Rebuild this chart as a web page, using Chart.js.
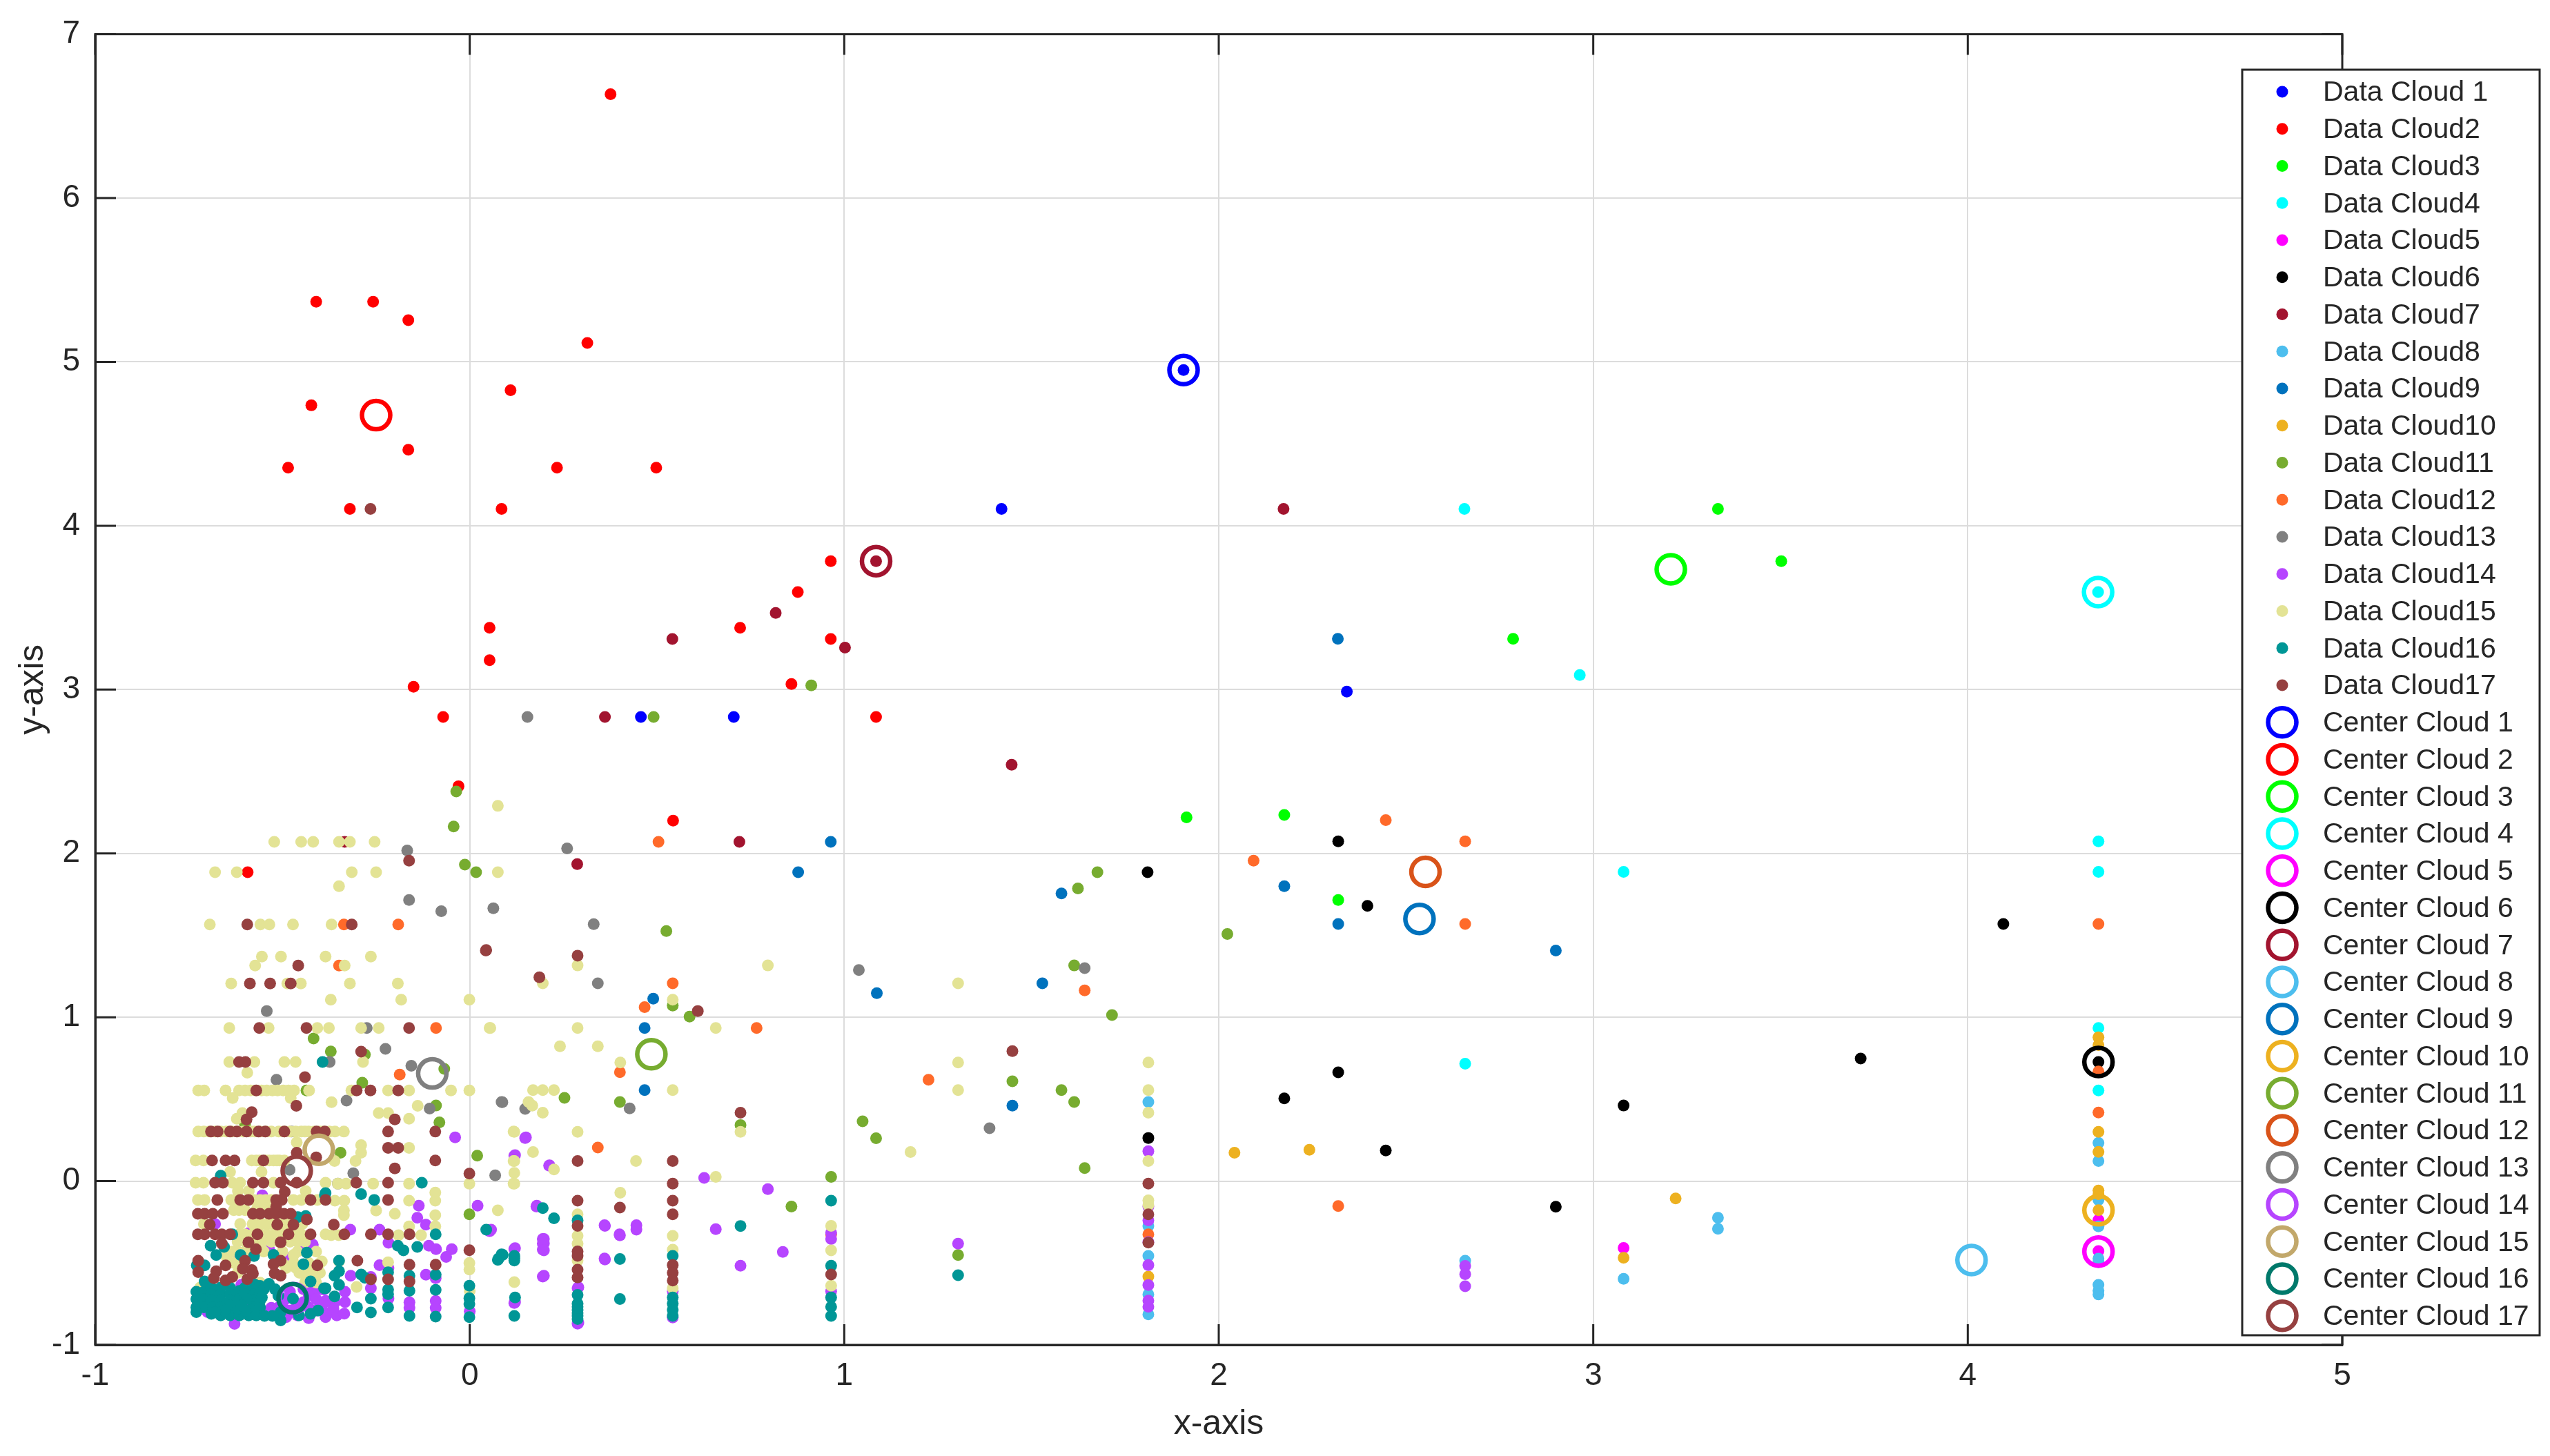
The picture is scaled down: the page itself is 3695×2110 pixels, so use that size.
<!DOCTYPE html>
<html>
<head>
<meta charset="utf-8">
<title>Data clouds</title>
<script src="https://cdn.jsdelivr.net/npm/chart.js@4/dist/chart.umd.js"></script>
<style>
  html, body { margin: 0; background: #fff; }
  #chart { display: block; }
</style>
</head>
<body>
<canvas id="chart" width="3695" height="2110"></canvas>
<script>
const xTicks = [-1, 0, 1, 2, 3, 4, 5];
const yTicks = [-1, 0, 1, 2, 3, 4, 5, 6, 7];
const dataNames = ['Data Cloud 1', 'Data Cloud2', 'Data Cloud3', 'Data Cloud4', 'Data Cloud5', 'Data Cloud6', 'Data Cloud7', 'Data Cloud8', 'Data Cloud9', 'Data Cloud10', 'Data Cloud11', 'Data Cloud12', 'Data Cloud13', 'Data Cloud14', 'Data Cloud15', 'Data Cloud16', 'Data Cloud17'];
const centerNames = ['Center Cloud 1', 'Center Cloud 2', 'Center Cloud 3', 'Center Cloud 4', 'Center Cloud 5', 'Center Cloud 6', 'Center Cloud 7', 'Center Cloud 8', 'Center Cloud 9', 'Center Cloud 10', 'Center Cloud 11', 'Center Cloud 12', 'Center Cloud 13', 'Center Cloud 14', 'Center Cloud 15', 'Center Cloud 16', 'Center Cloud 17'];
const dataColors = ['#0000ff', '#ff0000', '#00ff00', '#00ffff', '#ff00ff', '#000000', '#a2142f', '#4dbeee', '#0072bd', '#edb120', '#77ac30', '#ff6a2a', '#808080', '#b645ff', '#e3e395', '#009696', '#964040'];
const centerColors = ['#0000ff', '#ff0000', '#00ff00', '#00ffff', '#ff00ff', '#000000', '#a2142f', '#4dbeee', '#0072bd', '#edb120', '#77ac30', '#d95319', '#808080', '#b645ff', '#c2a86b', '#00796b', '#964040'];

const centers = [[1.906,4.95],[-0.25,4.675],[3.207,3.734],[4.348,3.595],[4.349,-0.43],[4.349,0.727],[1.085,3.784],[4.01,-0.482],[2.536,1.6],[4.349,-0.178],[0.485,0.774],[2.552,1.887],[-0.1,0.657],[-0.47,-0.715],[-0.403,0.191],[-0.473,-0.715],[-0.462,0.062]];

const cloud1 = [[1.906,4.95],[1.42,4.103],[0.457,2.833],[0.705,2.833],[2.342,2.988]];
const cloud2 = [[0.376,6.634],[-0.41,5.367],[-0.258,5.367],[-0.164,5.255],[0.314,5.116],[0.109,4.827],[-0.423,4.735],[-0.164,4.464],[-0.485,4.354],[0.233,4.354],[0.498,4.354],[-0.32,4.103],[0.085,4.103],[0.964,3.784],[0.876,3.595],[0.053,3.377],[0.722,3.377],[0.964,3.309],[0.053,3.179],[-0.15,3.017],[0.859,3.034],[-0.071,2.833],[1.085,2.833],[0.543,2.2],[-0.03,2.41],[-0.593,1.885]];
const cloud3 = [[3.333,4.103],[3.502,3.784],[2.786,3.31],[1.914,2.22],[2.175,2.235],[2.319,1.716]];
const cloud4 = [[2.656,4.103],[2.964,3.089],[4.348,3.595],[2.658,0.716],[3.081,1.887],[4.349,2.074],[4.349,1.887],[4.349,0.934],[4.349,0.553]];
const cloud5 = [[3.081,-0.408],[4.349,-0.238],[4.349,-0.427]];
const cloud6 = [[2.319,2.074],[2.397,1.68],[4.095,1.569],[3.714,0.748],[4.349,0.727],[2.319,0.664],[2.175,0.505],[3.081,0.461],[2.446,0.187],[2.9,-0.157],[1.812,0.263],[1.81,1.885]];
const cloud7 = [[1.085,3.784],[2.173,4.103],[0.541,3.309],[0.817,3.468],[1.002,3.256],[0.361,2.833],[1.447,2.541],[0.72,2.07],[0.287,1.935],[-0.334,2.07]];
const cloud8 = [[3.333,-0.224],[3.333,-0.291],[3.081,-0.597],[2.658,-0.486],[4.349,0.233],[4.349,0.122],[4.349,-0.115],[4.349,-0.277],[4.349,-0.473],[4.349,-0.496],[4.349,-0.634],[4.349,-0.669],[4.349,-0.692],[1.812,0.483],[1.812,-0.274],[1.812,-0.457],[1.812,-0.692],[1.812,-0.814]];
const cloud9 = [[2.175,1.8],[2.319,1.569],[2.9,1.407],[1.529,1.207],[1.087,1.147],[0.49,1.113],[0.467,0.934],[0.467,0.555],[1.449,0.46],[0.877,1.885],[0.964,2.07],[1.58,1.756],[2.318,3.31]];
const cloud10 = [[2.042,0.173],[2.242,0.191],[3.22,-0.106],[3.081,-0.468],[4.349,0.877],[4.349,0.83],[4.349,0.3],[4.349,0.178],[4.349,-0.058],[4.349,-0.08],[4.349,-0.178],[1.812,-0.583]];
const cloud11 = [[0.491,2.833],[0.912,3.025],[-0.036,2.378],[-0.043,2.164],[-0.013,1.931],[0.017,1.885],[-0.417,0.87],[-0.371,0.791],[-0.28,0.772],[-0.287,0.6],[-0.436,0.553],[-0.068,0.685],[-0.09,0.461],[-0.081,0.358],[-0.6,0.346],[-0.345,0.173],[0.02,0.155],[-0.001,-0.203],[0.525,1.526],[0.542,1.071],[0.587,1.004],[0.253,0.508],[0.401,0.483],[0.723,0.342],[0.859,-0.156],[0.965,0.026],[1.304,-0.451],[1.58,0.555],[1.614,0.483],[1.449,0.609],[1.049,0.365],[1.085,0.261],[1.642,0.079],[1.614,1.316],[1.715,1.013],[2.023,1.508],[1.676,1.885],[1.624,1.786]];
const cloud12 = [[2.446,2.203],[2.658,2.074],[2.093,1.956],[2.658,1.569],[2.319,-0.152],[4.349,1.569],[4.349,0.669],[4.349,0.418],[-0.336,1.566],[-0.191,1.566],[-0.349,1.315],[-0.09,0.934],[-0.187,0.65],[0.542,1.207],[0.467,1.062],[0.766,0.934],[0.401,0.665],[0.342,0.205],[1.225,0.618],[1.642,1.164],[0.965,-0.325],[1.812,-0.325],[0.504,2.07]];
const cloud13 = [[0.154,2.833],[-0.167,2.018],[-0.162,1.716],[-0.076,1.647],[0.063,1.665],[-0.542,1.038],[-0.275,0.934],[-0.225,0.807],[-0.374,0.727],[-0.516,0.618],[-0.156,0.704],[-0.329,0.491],[-0.107,0.443],[0.087,0.482],[-0.476,0.302],[-0.481,0.069],[-0.311,0.048],[-0.352,-0.016],[0.068,0.035],[0.331,1.568],[0.342,1.207],[1.039,1.288],[1.642,1.3],[0.085,0.483],[0.148,0.44],[0.427,0.444],[1.388,0.323],[0.26,2.03]];
const cloud14 = [[0.148,0.263],[0.119,0.154],[0.212,0.094],[0.626,0.019],[0.796,-0.049],[0.836,-0.432],[0.723,-0.517],[0.657,-0.293],[0.445,-0.269],[0.445,-0.297],[0.361,-0.273],[0.401,-0.331],[0.195,-0.353],[0.195,-0.382],[0.195,-0.419],[0.195,-0.583],[0.361,-0.479],[0.178,-0.156],[0.053,-0.306],[0.119,-0.415],[0.119,-0.744],[0.288,-0.654],[0.288,-0.87],[0.965,-0.316],[0.965,-0.353],[0.965,-0.673],[0.542,-0.673],[0.542,-0.833],[1.812,0.182],[1.812,-0.156],[1.812,-0.24],[1.812,-0.372],[1.812,-0.513],[1.812,-0.635],[1.812,-0.729],[1.812,-0.767],[1.304,-0.382],[2.658,-0.518],[2.658,-0.568],[2.658,-0.642],
  [-0.554,-0.087],[-0.68,-0.262],[-0.59,-0.318],[-0.453,-0.409],[-0.419,-0.388],[-0.536,-0.416],[-0.493,-0.465],[-0.425,-0.52],[-0.62,-0.437],[-0.61,-0.634],[-0.6,-0.74],[-0.62,-0.73],[-0.695,-0.662],[-0.53,-0.774],[-0.555,-0.79],[-0.628,-0.872],[-0.7,-0.8],[-0.43,-0.837],[-0.385,-0.83],[-0.48,-0.676],[-0.49,-0.718],[-0.444,-0.739],[-0.462,-0.75],[-0.42,-0.676],[-0.395,-0.66],[-0.383,-0.735],[-0.4,-0.76],[-0.388,-0.8],[-0.444,-0.66],[-0.413,-0.66],[-0.5,-0.76],[-0.46,-0.82],[-0.49,-0.83],[-0.43,-0.7],[-0.41,-0.72],[-0.43,-0.77],[-0.41,-0.79],[-0.36,-0.74],[-0.355,-0.82],[-0.54,-0.8],[-0.51,-0.77],[-0.48,-0.79],
  [-0.389,-0.662],[-0.385,-0.732],[-0.364,-0.781],[-0.385,-0.816],[-0.333,-0.676],[-0.333,-0.739],[-0.335,-0.809],[-0.319,-0.297],[-0.241,-0.297],[-0.217,-0.377],[-0.241,-0.514],[-0.318,-0.578],[-0.264,-0.585],[-0.264,-0.655],[-0.217,-0.53],[-0.217,-0.718],[-0.161,-0.74],[-0.161,-0.774],[-0.117,-0.571],[-0.091,-0.592],[-0.091,-0.732],[-0.091,-0.774],[-0.136,-0.15],[-0.14,-0.224],[-0.117,-0.266],[-0.109,-0.395],[-0.09,-0.416],[-0.048,-0.416],[-0.063,-0.463],[-0.039,0.267],[0.021,-0.15],[0,-0.795],[0.15,0.267],[0.121,0.158],[0.213,0.096],[0.179,-0.15],[0.057,-0.297],[0.198,-0.353],[0.198,-0.381],[0.198,-0.423],[0.198,-0.578],[0.121,-0.409],[0.121,-0.739],[0.36,-0.269],[0.4,-0.325],[0.36,-0.472],[0.29,-0.648],[0.29,-0.865]];
const cloud15 = [[-0.522,2.07],[-0.45,2.07],[-0.418,2.07],[-0.349,2.07],[-0.32,2.07],[-0.254,2.07],[0.075,2.29],[-0.68,1.885],[-0.622,1.885],[-0.315,1.885],[-0.25,1.885],[0.075,1.885],[-0.349,1.8],[-0.694,1.566],[-0.559,1.566],[-0.535,1.566],[-0.472,1.566],[-0.369,1.566],[-0.555,1.37],[-0.504,1.37],[-0.385,1.37],[-0.264,1.37],[-0.573,1.315],[-0.334,1.315],[-0.637,1.206],[-0.487,1.206],[-0.451,1.206],[-0.32,1.206],[-0.192,1.206],[-0.371,1.107],[-0.183,1.107],[-0.001,1.107],
  [-0.642,0.934],[-0.537,0.934],[-0.407,0.934],[-0.376,0.934],[-0.29,0.934],[-0.243,0.934],[0.055,0.934],[-0.642,0.727],[-0.575,0.727],[-0.495,0.727],[-0.465,0.727],[-0.285,0.727],[-0.594,0.662],
  [-0.725,0.553],[-0.709,0.553],[-0.652,0.553],[-0.616,0.553],[-0.6,0.553],[-0.585,0.553],[-0.571,0.553],[-0.556,0.553],[-0.542,0.553],[-0.527,0.553],[-0.513,0.553],[-0.498,0.553],[-0.484,0.553],[-0.469,0.553],[-0.429,0.553],[-0.316,0.553],[-0.218,0.553],[-0.162,0.553],[-0.05,0.553],[-0.001,0.553],[-0.633,0.507],[-0.478,0.507],[-0.369,0.482],[-0.139,0.459],[-0.607,0.415],[-0.243,0.415],[-0.218,0.415],[-0.622,0.38],[-0.162,0.38],
  [-0.725,0.302],[-0.71,0.302],[-0.68,0.302],[-0.65,0.302],[-0.62,0.302],[-0.585,0.302],[-0.56,0.302],[-0.53,0.302],[-0.51,0.302],[-0.48,0.302],[-0.45,0.302],[-0.43,0.302],[-0.4,0.302],[-0.375,0.302],[-0.336,0.302],[0.117,0.302],[-0.695,0.302],[-0.665,0.302],[-0.635,0.302],[-0.605,0.302],[-0.575,0.302],[-0.545,0.302],[-0.495,0.302],[-0.465,0.302],[-0.44,0.302],[-0.415,0.302],[-0.39,0.302],[-0.36,0.302],[-0.462,0.236],[-0.29,0.219],[-0.162,0.203],[-0.29,0.173],
  [-0.732,0.126],[-0.711,0.126],[-0.582,0.126],[-0.56,0.126],[-0.524,0.126],[-0.508,0.126],[-0.361,0.122],[-0.305,0.122],[0.117,0.122],[-0.57,0.126],[-0.545,0.126],[-0.535,0.126],[-0.515,0.126],[-0.495,0.126],[-0.64,0.056],[-0.556,0.056],
  [-0.732,-0.01],[-0.711,-0.01],[-0.634,-0.01],[-0.613,-0.01],[-0.524,-0.01],[-0.385,-0.01],[-0.352,-0.016],[-0.33,-0.016],[-0.258,-0.016],[-0.162,-0.016],[-0.001,-0.016],[0.117,-0.016],[-0.619,-0.061],[-0.59,-0.061],[-0.438,-0.061],[-0.092,-0.07],
  [-0.726,-0.115],[-0.708,-0.115],[-0.637,-0.115],[-0.576,-0.115],[-0.471,-0.115],[-0.45,-0.115],[-0.407,-0.115],[-0.36,-0.12],[-0.335,-0.12],[-0.162,-0.12],[-0.092,-0.12],[-0.625,-0.115],[-0.59,-0.115],[-0.56,-0.115],[-0.545,-0.115],[-0.53,-0.115],[-0.616,-0.178],[-0.6,-0.178],[-0.542,-0.164],[-0.336,-0.18],[-0.25,-0.18],[0.075,-0.179],[-0.336,-0.208],[-0.092,-0.208],[-0.63,-0.178],[-0.57,-0.178],[-0.55,-0.178],[-0.53,-0.178],
  [-0.71,-0.262],[-0.613,-0.262],[-0.567,-0.262],[-0.542,-0.262],[-0.493,-0.262],[-0.447,-0.262],[-0.162,-0.277],[-0.092,-0.277],[-0.58,-0.262],[-0.555,-0.262],[-0.53,-0.262],[-0.51,-0.262],[-0.48,-0.262],[-0.46,-0.262],[-0.616,-0.325],[-0.542,-0.325],[-0.52,-0.325],[-0.385,-0.325],[-0.37,-0.33],[-0.35,-0.33],[-0.19,-0.33],[-0.13,-0.33],[-0.6,-0.325],[-0.58,-0.325],[-0.56,-0.325],[-0.5,-0.325],[-0.47,-0.325],[-0.45,-0.325],[-0.554,-0.37],[-0.53,-0.37],[-0.48,-0.37],[-0.62,-0.37],[-0.6,-0.37],[-0.57,-0.37],[-0.51,-0.37],[-0.46,-0.37],[-0.44,-0.37],
  [-0.62,-0.43],[-0.6,-0.43],[-0.58,-0.43],[-0.55,-0.43],[-0.5,-0.43],[-0.46,-0.43],[-0.41,-0.43],[-0.63,-0.5],[-0.61,-0.5],[-0.47,-0.5],[-0.43,-0.5],[-0.4,-0.5],[-0.62,-0.56],[-0.455,-0.56],[-0.43,-0.56],[-0.4,-0.56],[-0.56,-0.62],[-0.44,-0.62],[-0.41,-0.62],
  [-0.634,-0.43],[-0.65,-0.46],[-0.555,-0.42],[-0.47,-0.45],[-0.5,-0.5],[-0.472,-0.507],[-0.464,-0.53],[-0.45,-0.56],[-0.425,-0.55],[-0.395,-0.49],[-0.407,-0.565],[-0.49,-0.53],[-0.72,-0.65],[-0.6,-0.47],[-0.218,-0.496],[-0.349,-0.489],[-0.001,-0.5],[-0.001,-0.54],[-0.302,-0.646],[0,-0.67],[-0.2,-0.2],
  [0.288,1.316],[0.195,1.207],[0.542,1.107],[0.796,1.316],[1.304,1.207],[0.053,0.934],[0.288,0.934],[0.657,0.934],[0.241,0.823],[0.342,0.823],[0.402,0.724],[0.169,0.555],[0.195,0.555],[0.225,0.555],[0.542,0.555],[1.304,0.724],[1.304,0.555],[1.812,0.724],[1.812,0.555],[1.812,0.417],[0.157,0.483],[0.167,0.46],[0.195,0.417],[0.119,0.3],[0.288,0.3],[0.723,0.3],[0.169,0.177],[1.177,0.177],[0.119,0.122],[0.444,0.122],[1.812,0.122],[0.225,0.071],[0.119,0.05],[0.119,-0.015],[0.657,0.026],[0.402,-0.071],[0.288,-0.203],[0.288,-0.335],[0.288,-0.382],[0.288,-0.485],[0.542,-0.335],[0.542,-0.419],[0.542,-0.654],[0.965,-0.273],[0.965,-0.423],[0.965,-0.639],[0.119,-0.617],[1.812,-0.118],[1.812,-0.147]];
const cloud16 = [[-0.665,0.033],[-0.393,0.727],[-0.387,-0.085],[-0.128,-0.01],[-0.29,-0.08],[-0.255,-0.115],[-0.091,-0.325],[0.044,-0.297],[-0.192,-0.395],[-0.177,-0.423],[-0.14,-0.402],[0.077,-0.473],[0.088,-0.45],[0.119,-0.457],[0.119,-0.485],[-0.349,-0.486],[-0.459,-0.22],[-0.438,-0.213],[-0.385,-0.073],
  [-0.708,-0.515],[-0.729,-0.515],[-0.708,-0.613],[-0.692,-0.395],[-0.634,-0.325],[-0.656,-0.402],[-0.677,-0.451],[-0.612,-0.451],[-0.576,-0.458],[-0.524,-0.45],[-0.435,-0.437],[-0.444,-0.507],[-0.425,-0.613],[-0.385,-0.655],[-0.389,-0.655],
  [-0.73,-0.676],[-0.71,-0.676],[-0.73,-0.72],[-0.71,-0.72],[-0.73,-0.77],[-0.71,-0.77],[-0.73,-0.8],[-0.69,-0.65],[-0.665,-0.65],[-0.64,-0.65],[-0.615,-0.67],[-0.575,-0.63],[-0.56,-0.64],[-0.69,-0.69],[-0.665,-0.69],[-0.64,-0.69],[-0.58,-0.69],[-0.56,-0.69],[-0.69,-0.73],[-0.665,-0.73],[-0.64,-0.73],[-0.615,-0.72],[-0.58,-0.73],[-0.56,-0.73],[-0.685,-0.77],[-0.665,-0.77],[-0.64,-0.76],[-0.58,-0.77],[-0.56,-0.77],[-0.69,-0.81],[-0.665,-0.82],[-0.64,-0.82],[-0.615,-0.82],[-0.59,-0.82],[-0.57,-0.82],[-0.6,-0.65],[-0.6,-0.69],[-0.595,-0.72],[-0.6,-0.79],[-0.62,-0.78],[-0.55,-0.66],[-0.555,-0.71],[-0.655,-0.79],[-0.68,-0.8],[-0.61,-0.76],
  [-0.536,-0.627],[-0.52,-0.66],[-0.511,-0.7],[-0.548,-0.823],[-0.527,-0.823],[-0.505,-0.85],[-0.505,-0.8],[-0.472,-0.718],[-0.456,-0.82],[-0.425,-0.81],[-0.405,-0.79],
  [-0.361,-0.704],[-0.361,-0.578],[-0.349,-0.55],[-0.349,-0.634],[-0.29,-0.57],[-0.28,-0.59],[-0.301,-0.771],[-0.264,-0.718],[-0.264,-0.802],[-0.218,-0.557],[-0.218,-0.662],[-0.218,-0.69],[-0.218,-0.771],[-0.161,-0.578],[-0.161,-0.669],[-0.161,-0.823],[-0.091,-0.571],[-0.091,-0.664],[-0.091,-0.827],
  [-0.001,-0.639],[-0.001,-0.715],[-0.001,-0.75],[-0.001,-0.83],[0.121,-0.71],[0.119,-0.823],[0.723,-0.274],[0.965,-0.12],[0.965,-0.517],[0.965,-0.71],[0.965,-0.767],[0.965,-0.823],[1.304,-0.575],[0.288,-0.24],[0.119,-0.47],[0.085,-0.447],[0.075,-0.481],[0.401,-0.476],[0.542,-0.457],[0.288,-0.695],[0.288,-0.748],[0.288,-0.767],[0.288,-0.786],[0.288,-0.805],[0.288,-0.823],[0.288,-0.842],[0.401,-0.72],[0.542,-0.71],[0.542,-0.748],[0.542,-0.786],[0.542,-0.823],[0.225,-0.227],[0.195,-0.165]];
const cloud17 = [[-0.265,4.103],[-0.162,1.956],[0.043,1.407],[-0.594,1.566],[-0.315,1.566],[-0.458,1.315],[-0.587,1.206],[-0.533,1.206],[-0.478,1.206],[-0.562,0.934],[-0.436,0.934],[-0.162,0.934],[-0.616,0.727],[-0.599,0.727],[-0.29,0.79],[-0.44,0.634],[-0.57,0.553],[-0.302,0.553],[-0.265,0.553],[-0.191,0.553],[-0.463,0.459],[-0.582,0.42],[-0.596,0.376],[-0.2,0.376],
  [-0.691,0.302],[-0.673,0.302],[-0.64,0.302],[-0.622,0.302],[-0.596,0.302],[-0.564,0.302],[-0.546,0.302],[-0.495,0.302],[-0.409,0.302],[-0.387,0.302],[-0.218,0.302],[-0.092,0.302],[-0.218,0.203],[-0.191,0.203],[-0.688,0.126],[-0.652,0.126],[-0.628,0.126],[-0.551,0.126],[-0.092,0.126],[-0.462,0.173],[-0.41,0.145],[-0.2,0.077],[-0.001,0.046],
  [-0.68,-0.01],[-0.659,-0.01],[-0.579,-0.01],[-0.551,-0.01],[-0.505,-0.01],[-0.462,-0.01],[-0.303,-0.01],[-0.218,-0.01],[-0.494,-0.066],[-0.674,-0.115],[-0.613,-0.115],[-0.591,-0.115],[-0.517,-0.115],[-0.502,-0.115],[-0.425,-0.115],[-0.385,-0.115],[-0.218,-0.115],[-0.517,-0.157],
  [-0.726,-0.2],[-0.708,-0.2],[-0.686,-0.2],[-0.659,-0.2],[-0.579,-0.2],[-0.56,-0.2],[-0.536,-0.2],[-0.517,-0.2],[-0.496,-0.2],[-0.478,-0.2],[-0.435,-0.234],[-0.694,-0.266],[-0.514,-0.266],[-0.471,-0.266],[-0.363,-0.266],
  [-0.726,-0.325],[-0.708,-0.325],[-0.68,-0.325],[-0.662,-0.325],[-0.64,-0.325],[-0.567,-0.325],[-0.484,-0.325],[-0.425,-0.325],[-0.335,-0.325],[-0.264,-0.325],[-0.218,-0.325],[-0.161,-0.325],[-0.662,-0.381],[-0.591,-0.374],[-0.505,-0.374],[-0.571,-0.416],[-0.001,-0.422],
  [-0.6,-0.486],[-0.725,-0.486],[-0.505,-0.486],[-0.524,-0.507],[-0.407,-0.515],[-0.652,-0.515],[-0.677,-0.55],[-0.582,-0.543],[-0.606,-0.535],[-0.725,-0.556],[-0.521,-0.563],[-0.505,-0.578],[-0.683,-0.592],[-0.652,-0.606],[-0.634,-0.585],[-0.594,-0.599],[-0.579,-0.564],[-0.3,-0.486],[-0.264,-0.6],[-0.218,-0.6],[-0.161,-0.51],[-0.161,-0.613],[-0.091,-0.51],
  [0.044,1.41],[0.288,1.376],[0.186,1.244],[0.609,1.038],[1.449,0.793],[0.723,0.417],[0.288,0.122],[0.542,0.122],[0.542,-0.015],[0.288,-0.12],[0.542,-0.12],[0.401,-0.162],[0.542,-0.203],[0.288,-0.273],[0.288,-0.429],[0.288,-0.457],[0.288,-0.541],[0.288,-0.588],[0.542,-0.513],[0.542,-0.56],[0.542,-0.607],[0.965,-0.57],[1.812,-0.015],[1.812,-0.203],[1.812,-0.376]];
const clouds = [cloud1, cloud2, cloud3, cloud4, cloud5, cloud6, cloud7, cloud8, cloud9, cloud10, cloud11, cloud12, cloud13, cloud14, cloud15, cloud16, cloud17];

const toPoints = list => list.map(p => ({ x: p[0], y: p[1] }));
const DOT_R = 8.5, RING_R = 20.5, RING_W = 6.5;

// later series sit on top, same as the plotting order of the original
const datasets = [];
clouds.forEach((c, i) => datasets.push({
  label: dataNames[i], data: toPoints(c), order: 100 - i,
  backgroundColor: dataColors[i], pointRadius: DOT_R, pointBorderWidth: 0
}));
centers.forEach((c, i) => datasets.push({
  label: centerNames[i], data: toPoints([c]), order: 50 - i,
  backgroundColor: 'rgba(0,0,0,0)', borderColor: centerColors[i],
  pointRadius: RING_R, pointBorderWidth: RING_W
}));

// box ticks pointing inward plus the top and right edges
const framePlugin = {
  id: 'frame',
  afterDraw(chart) {
    const { ctx, chartArea: a, scales } = chart;
    ctx.save();
    ctx.strokeStyle = '#262626';
    ctx.lineWidth = 3;
    ctx.strokeRect(a.left, a.top, a.right - a.left, a.bottom - a.top);
    ctx.beginPath();
    xTicks.forEach(v => {
      const x = scales.x.getPixelForValue(v);
      ctx.moveTo(x, a.bottom); ctx.lineTo(x, a.bottom - 30);
      ctx.moveTo(x, a.top); ctx.lineTo(x, a.top + 30);
    });
    yTicks.forEach(v => {
      const y = scales.y.getPixelForValue(v);
      ctx.moveTo(a.left, y); ctx.lineTo(a.left + 30, y);
      ctx.moveTo(a.right, y); ctx.lineTo(a.right - 30, y);
    });
    ctx.stroke();
    ctx.restore();
  }
};

const legendPlugin = {
  id: 'boxLegend',
  afterDraw(chart) {
    const { ctx } = chart;
    const box = { x: 3249, y: 101, w: 431, h: 1834 };
    ctx.save();
    ctx.fillStyle = '#fff';
    ctx.fillRect(box.x, box.y, box.w, box.h);
    ctx.strokeStyle = '#262626';
    ctx.lineWidth = 3;
    ctx.strokeRect(box.x, box.y, box.w, box.h);
    ctx.font = '41px "Liberation Sans"';
    ctx.textBaseline = 'middle';
    chart.data.datasets.forEach((ds, i) => {
      const y = 133 + i * 53.75;
      ctx.beginPath();
      if (i < dataNames.length) {
        ctx.fillStyle = ds.backgroundColor;
        ctx.arc(3307, y, DOT_R, 0, Math.PI * 2);
        ctx.fill();
      } else {
        ctx.strokeStyle = ds.borderColor;
        ctx.lineWidth = RING_W;
        ctx.arc(3307, y, RING_R, 0, Math.PI * 2);
        ctx.stroke();
      }
      ctx.fillStyle = '#262626';
      ctx.fillText(ds.label, 3366, y + 2);
    });
    ctx.restore();
  }
};

const axisFont = { family: '"Liberation Sans"', size: 46 };
const titleFont = { family: '"Liberation Sans"', size: 50 };

new Chart(document.getElementById('chart'), {
  type: 'scatter',
  data: { datasets },
  plugins: [framePlugin, legendPlugin],
  options: {
    responsive: false,
    animation: false,
    devicePixelRatio: 1,
    layout: { padding: { top: 48, right: 301, bottom: 16, left: 18 } },
    plugins: { legend: { display: false }, tooltip: { enabled: false } },
    scales: {
      x: {
        type: 'linear', min: -1, max: 5,
        afterFit: s => { s.height = 145; },
        afterBuildTicks: s => { s.ticks = xTicks.map(v => ({ value: v })); },
        grid: { color: '#dcdcdc', lineWidth: 2, drawTicks: false },
        border: { color: '#262626', width: 3 },
        ticks: { color: '#262626', font: axisFont, padding: 18, maxRotation: 0 },
        title: { display: true, text: 'x-axis', color: '#262626', font: titleFont, padding: 0 }
      },
      y: {
        type: 'linear', min: -1, max: 7,
        afterFit: s => { s.width = 120; },
        afterBuildTicks: s => { s.ticks = yTicks.map(v => ({ value: v })); },
        grid: { color: '#dcdcdc', lineWidth: 2, drawTicks: false },
        border: { color: '#262626', width: 3 },
        ticks: { color: '#262626', font: axisFont, padding: 22 },
        title: { display: true, text: 'y-axis', color: '#262626', font: titleFont, padding: 0 }
      }
    }
  }
});
</script>
</body>
</html>
